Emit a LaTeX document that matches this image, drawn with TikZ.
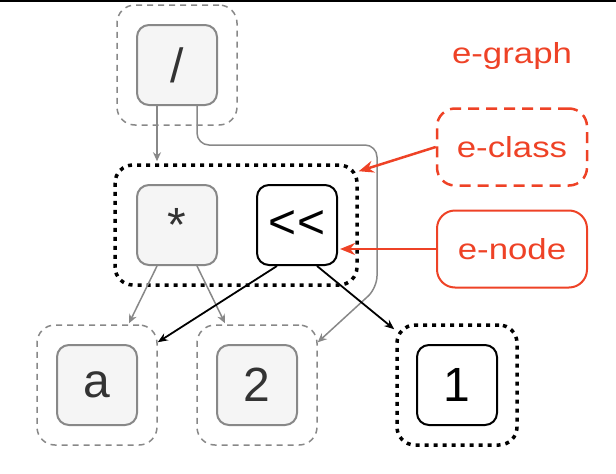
\documentclass[tikz,border=0pt]{standalone}
\usepackage{fontspec}
\setmainfont{Liberation Sans}
\newfontfamily\redfont{Liberation Sans}[FakeStretch=1.2]
\usetikzlibrary{arrows.meta}

\definecolor{egred}{RGB}{238,66,38}
\definecolor{nodegray}{RGB}{136,136,136}
\definecolor{nodefill}{RGB}{245,245,245}
\definecolor{txtgray}{RGB}{51,51,51}

\tikzset{
  opbox/.style={draw=nodegray, line width=2pt, fill=nodefill, rounded corners=12pt,
    minimum size=80pt, inner sep=0pt, text=txtgray, font=\fontsize{48}{56}\selectfont},
  newbox/.style={opbox, draw=black, fill=white, text=black},
  classbox/.style={draw=nodegray, line width=1.5pt, dash pattern=on 6pt off 5pt,
    rounded corners=18pt, minimum size=120pt},
  newclass/.style={draw=black, line width=3.5pt, dash pattern=on 4pt off 5pt,
    rounded corners=18pt, minimum height=120pt},
  legend/.style={draw=egred, line width=2pt, rounded corners=18pt, minimum width=150pt,
    minimum height=77pt, text=egred, font=\redfont\fontsize{29}{34}\selectfont},
  grayarrow/.style={draw=nodegray, line width=1.5pt, -{Stealth[length=9pt,width=8pt]}},
  blackarrow/.style={draw=black, line width=1.8pt, -{Stealth[length=10pt,width=8pt]}},
  redarrow/.style={draw=egred, line width=2.5pt, -{Stealth[length=15pt,width=12pt]}}
}

\begin{document}
\begin{tikzpicture}[x=1pt,y=-1pt]
\useasboundingbox (0,0) rectangle (616,474);
\fill (0,0) rectangle (616,1.5); % top rule

% e-classes
\node[classbox] (clsdiv) at (177,65) {};
\node[newclass, minimum width=242pt] (clsmul) at (236,225) {};
\node[classbox] (clsa) at (97,385) {};
\node[classbox] (clstwo) at (257,385) {};
\node[newclass, minimum width=120pt] (clsone) at (457,385) {};

% e-nodes
\node[opbox] (div) at (177,65) {/};
\node[opbox] (mul) at (177,225) {*};
\node[newbox] (shl) at (297,225) {{<}{<}};
\node[opbox] (a) at (97,385) {a};
\node[opbox] (two) at (257,385) {2};
\node[newbox] (one) at (457,385) {1};

% legend
\node[text=egred, font=\redfont\fontsize{29}{34}\selectfont] (egraph) at (512,56) {e-graph};
\node[legend, line width=2.5pt, dash pattern=on 11pt off 7pt] (lgclass) at (512,147) {e-class};
\node[legend] (lgnode) at (512,249) {e-node};

\coordinate (bendA) at (197,145);
\coordinate (bendB) at (377,145);
\coordinate (bendC) at (377,288);

\draw[grayarrow] ([xshift=-20pt]div.south) -- ([xshift=-20pt,yshift=2pt]div.south |- clsmul.north);
\draw[grayarrow, rounded corners=12pt] ([xshift=20pt]div.south) -- (bendA) -- (bendB) -- (bendC)
  -- ([yshift=-18pt]clstwo.north east);
\draw[grayarrow] ([xshift=-20pt]mul.south) -- ([xshift=32pt,yshift=1pt]clsa.north);
\draw[grayarrow] ([xshift=20pt]mul.south) -- ([xshift=-32pt,yshift=1pt]clstwo.north);
\draw[blackarrow] ([xshift=-20pt]shl.south) -- ([yshift=-18pt]clsa.north east);
\draw[blackarrow] ([xshift=20pt]shl.south) -- ([xshift=-1pt,yshift=-6pt]clsone.north west);

\draw[redarrow] (lgclass.west) -- ([yshift=-8pt]clsmul.north east);
\draw[redarrow, shorten >=2pt] (lgnode.west) -- (lgnode.west -| shl.east);
\end{tikzpicture}
\end{document}
